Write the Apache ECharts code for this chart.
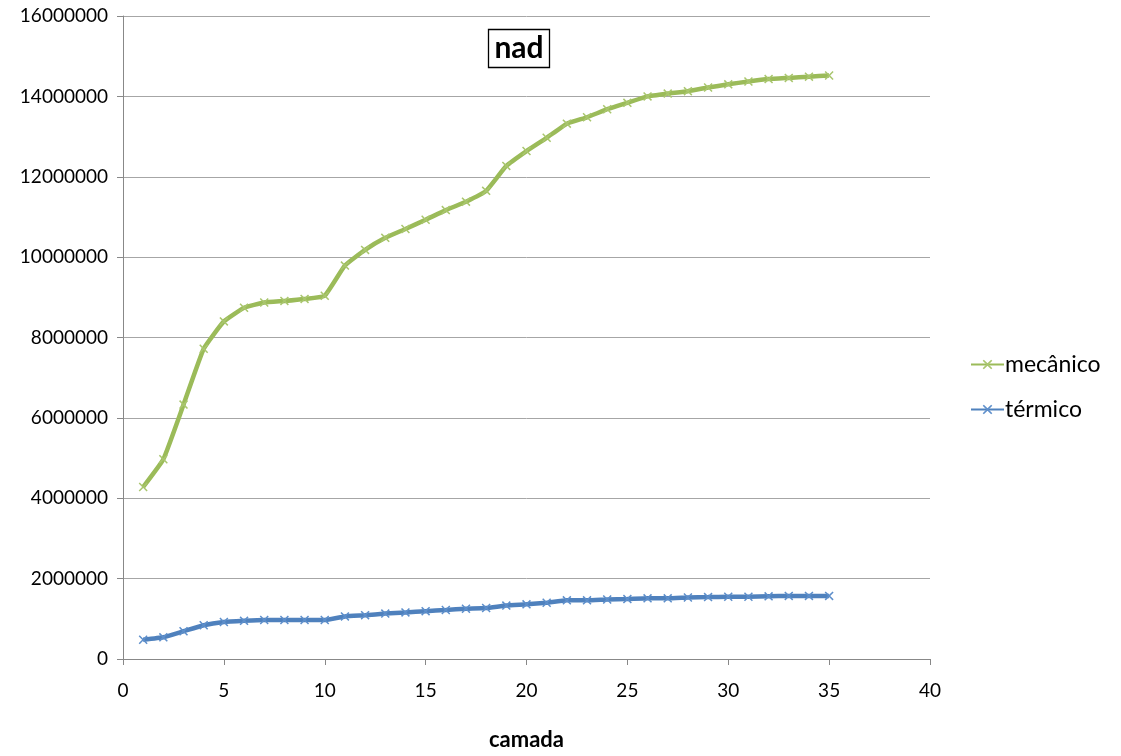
<!DOCTYPE html>
<html>
<head>
<meta charset="utf-8">
<script src="https://cdn.jsdelivr.net/npm/echarts@6/dist/echarts.min.js"></script>
<style>
  html, body { margin: 0; padding: 0; background: #fff; }
  #chart { width: 1121px; height: 756px; }
</style>
</head>
<body>
<div id="chart"></div>
<script>
// layer index (camada)
const camada = [1,2,3,4,5,6,7,8,9,10,11,12,13,14,15,16,17,18,19,20,21,22,23,24,25,26,27,28,29,30,31,32,33,34,35];

// mechanical values
const mecanico = [4280000,4970000,6330000,7720000,8400000,8740000,8870000,8910000,8960000,9040000,
  9790000,10180000,10480000,10700000,10930000,11170000,11380000,11650000,12270000,12640000,
  12970000,13320000,13480000,13680000,13840000,14000000,14070000,14130000,14220000,14300000,
  14370000,14430000,14460000,14490000,14520000];

// thermal values
const termico = [480000,540000,690000,840000,920000,950000,970000,970000,970000,970000,
  1060000,1090000,1130000,1160000,1190000,1220000,1250000,1270000,1330000,1360000,
  1400000,1460000,1460000,1480000,1490000,1510000,1510000,1530000,1540000,1550000,
  1550000,1560000,1570000,1570000,1570000];

const seriesNames = ['mecânico', 'térmico'];
const titleText = 'nad';
const xAxisName = 'camada';

const FONT = 'Lato, "Open Sans", sans-serif';
const CROSS = 'path://M0,1.2L1.2,0L5,3.8L8.8,0L10,1.2L6.2,5L10,8.8L8.8,10L5,6.2L1.2,10L0,8.8L3.8,5Z';

const pairs = arr => camada.map((c, i) => [c, arr[i]]);

const chart = echarts.init(document.getElementById('chart'), null, { renderer: 'canvas' });
chart.setOption({
  backgroundColor: '#ffffff',
  animation: false,
  title: {
    text: titleText,
    left: 513,
    top: 29,
    textAlign: 'center',
    borderColor: '#000',
    borderWidth: 1.3,
    padding: [4, 6, 5, 6],
    textStyle: { fontFamily: FONT, fontWeight: 'bold', fontSize: 30, color: '#000' }
  },
  legend: {
    orient: 'vertical',
    left: 965,
    top: 348,
    itemGap: 22,
    itemWidth: 33,
    itemHeight: 12,
    textStyle: { fontFamily: FONT, fontSize: 23, color: '#000', padding: [0, 0, 0, -4] },
    data: seriesNames
  },
  grid: { left: 123, right: 191, top: 16, bottom: 95, containLabel: false },
  xAxis: {
    type: 'value',
    min: 0, max: 40, interval: 5,
    name: xAxisName,
    nameLocation: 'middle',
    nameGap: 70,
    nameTextStyle: { fontFamily: FONT, fontWeight: 'bold', fontSize: 22, color: '#000' },
    axisLine: { lineStyle: { color: '#888888', width: 1 } },
    axisTick: { show: true, inside: false, length: 6, lineStyle: { color: '#888888' } },
    axisLabel: { fontFamily: FONT, fontSize: 19, color: '#000', margin: 22 },
    splitLine: { show: false }
  },
  yAxis: {
    type: 'value',
    min: 0, max: 16000000, interval: 2000000,
    axisLine: { show: true, lineStyle: { color: '#888888', width: 1 } },
    axisTick: { show: true, inside: false, length: 6, lineStyle: { color: '#888888' } },
    axisLabel: { fontFamily: FONT, fontSize: 19, color: '#000', margin: 15, formatter: v => String(v) },
    splitLine: { show: true, lineStyle: { color: '#a6a6a6', width: 1 } }
  },
  series: [
    {
      name: seriesNames[0],
      type: 'line',
      data: pairs(mecanico),
      smooth: 0.12,
      symbol: CROSS,
      symbolSize: 9,
      showAllSymbol: true,
      lineStyle: { color: '#9BBB59', width: 4.5 },
      itemStyle: { color: '#a9c66e', borderWidth: 0 }
    },
    {
      name: seriesNames[1],
      type: 'line',
      data: pairs(termico),
      smooth: 0.12,
      symbol: CROSS,
      symbolSize: 9,
      showAllSymbol: true,
      lineStyle: { color: '#4F81BD', width: 4.5 },
      itemStyle: { color: '#5e8fcb', borderWidth: 0 }
    }
  ]
});
</script>
</body>
</html>
